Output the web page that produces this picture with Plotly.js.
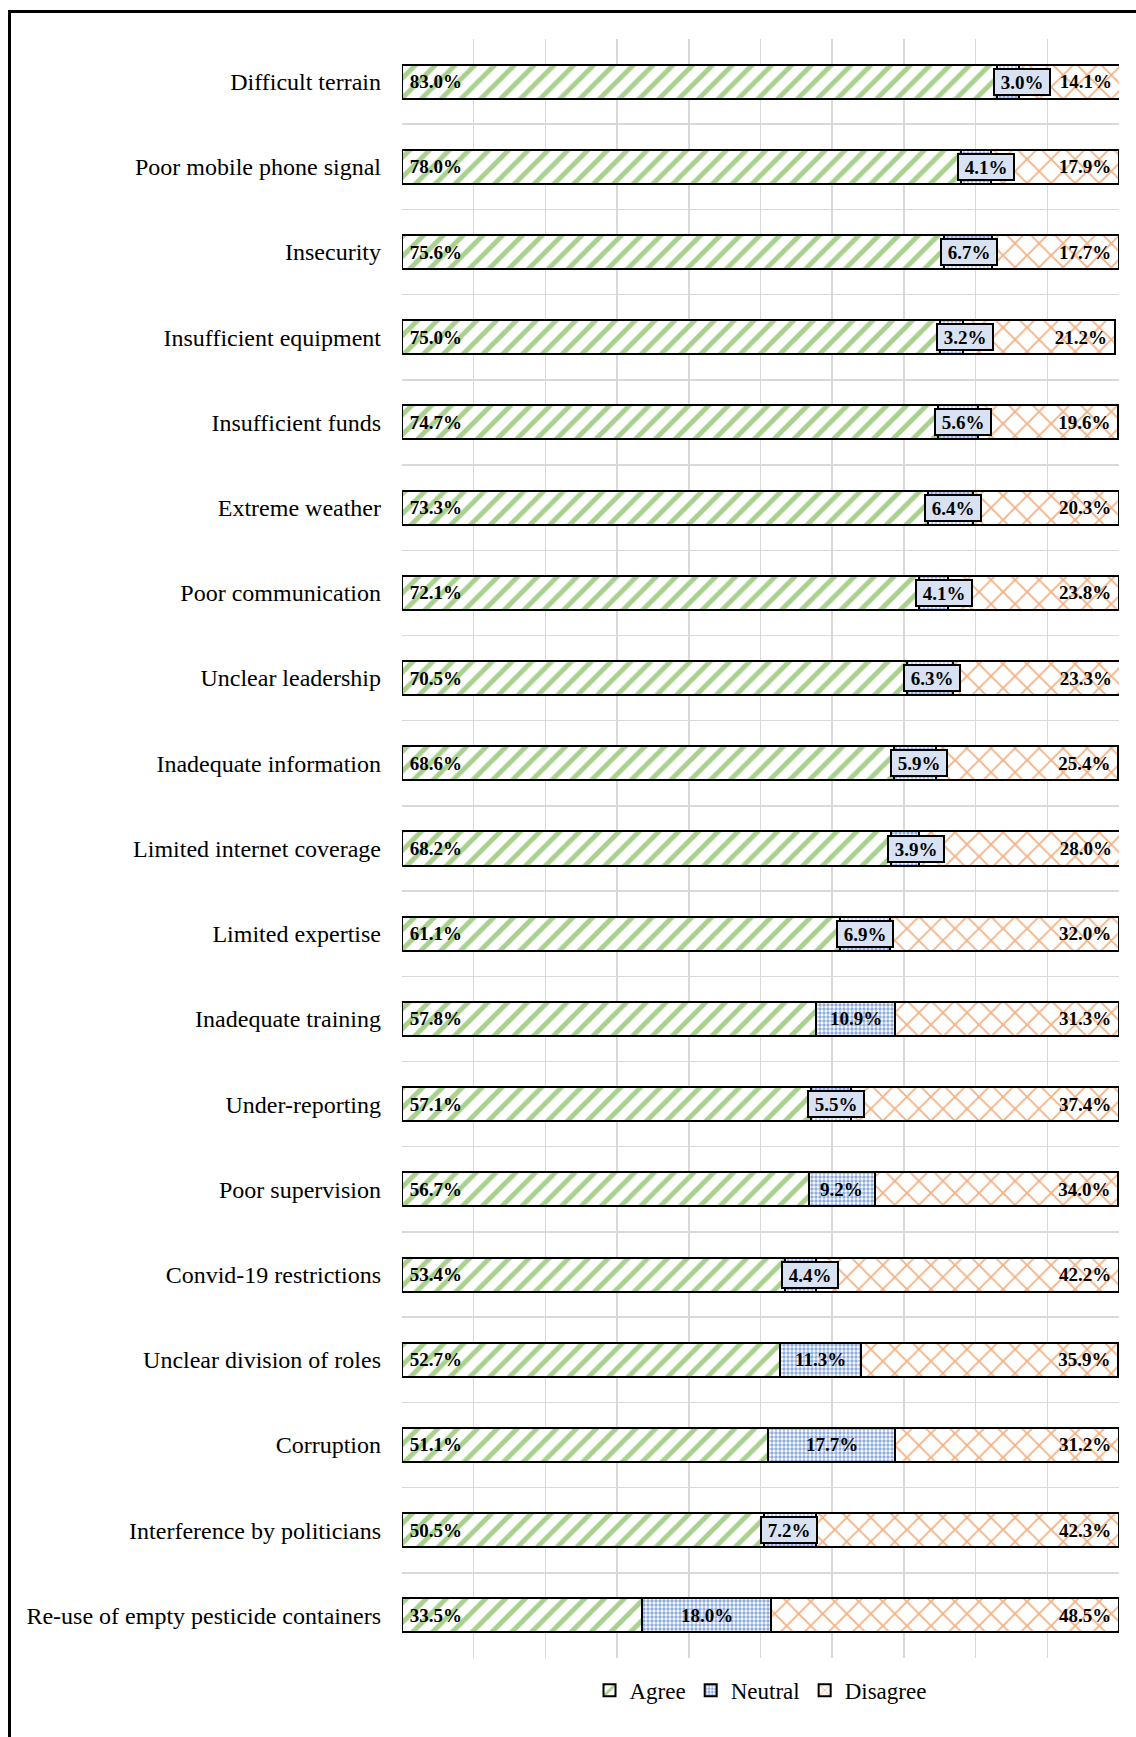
<!DOCTYPE html>
<html>
<head>
<meta charset="utf-8">
<script src="https://cdn.plot.ly/plotly-3.0.1.min.js"></script>
<style>
  html, body { margin: 0; padding: 0; background: #ffffff; overflow: hidden; }
  #frame { position: absolute; left: 8px; top: 10px; width: 2000px; height: 3000px;
           border-left: 3px solid #000; border-top: 3px solid #000; box-sizing: border-box; z-index: 0; }
  #chart { position: absolute; left: 0; top: 0; width: 1136px; height: 1737px; z-index: 1; }
</style>
</head>
<body>
<div id="frame"></div>
<div id="chart"></div>
<script>
const categories = [
  "Difficult terrain",
  "Poor mobile phone signal",
  "Insecurity",
  "Insufficient equipment",
  "Insufficient funds",
  "Extreme weather",
  "Poor communication",
  "Unclear leadership",
  "Inadequate information",
  "Limited internet coverage",
  "Limited expertise",
  "Inadequate training",
  "Under-reporting",
  "Poor supervision",
  "Convid-19 restrictions",
  "Unclear division of roles",
  "Corruption",
  "Interference by politicians",
  "Re-use of empty pesticide containers"
];
const agree    = [83.0, 78.0, 75.6, 75.0, 74.7, 73.3, 72.1, 70.5, 68.6, 68.2, 61.1, 57.8, 57.1, 56.7, 53.4, 52.7, 51.1, 50.5, 33.5];
const neutral  = [3.0, 4.1, 6.7, 3.2, 5.6, 6.4, 4.1, 6.3, 5.9, 3.9, 6.9, 10.9, 5.5, 9.2, 4.4, 11.3, 17.7, 7.2, 18.0];
const disagree = [14.1, 17.9, 17.7, 21.2, 19.6, 20.3, 23.8, 23.3, 25.4, 28.0, 32.0, 31.3, 37.4, 34.0, 42.2, 35.9, 31.2, 42.3, 48.5];
const seriesNames = ["Agree", "Neutral", "Disagree"];

const FONT = "Liberation Serif, Times New Roman, serif";
const labelFont = { family: FONT, size: 19, color: "#000", weight: "bold" };
const NBSP = "\u00a0";

function barTrace(name, values, fg, shape, size, solidity, anchor, textFn) {
  return {
    type: "bar",
    orientation: "h",
    name: name,
    y: categories,
    x: values,
    marker: {
      color: fg,
      line: { color: "#000", width: 2 },
      pattern: { shape: shape, fgcolor: fg, bgcolor: "#ffffff", size: size, solidity: solidity, fillmode: "replace" }
    },
    text: textFn ? values.map(textFn) : undefined,
    texttemplate: textFn ? "%{text}" : undefined,
    textposition: textFn ? "inside" : "none",
    insidetextanchor: anchor,
    textangle: 0,
    constraintext: "none",
    textfont: labelFont,
    hoverinfo: "skip"
  };
}

const traces = [
  barTrace(seriesNames[0], agree, "#A9D18E", "/", 14, 0.35, "start", v => NBSP + v.toFixed(1) + "%"),
  barTrace(seriesNames[1], neutral, "#8FAADC", ".", 4, 0.55, "middle", null),
  barTrace(seriesNames[2], disagree, "#F4B183", "x", 17, 0.2, "end", v => v.toFixed(1) + "%" + NBSP)
];

const annotations = categories.map((c, i) => {
  const narrow = neutral[i] < 8;
  const a = {
    y: c,
    xref: "x",
    yref: "y",
    text: neutral[i].toFixed(1) + "%",
    showarrow: false,
    font: labelFont,
    borderpad: 1
  };
  if (narrow) {
    a.x = agree[i];
    a.xanchor = "left";
    a.xshift = -4;
    a.width = 52;
    a.height = 22;
    a.bordercolor = "#000";
    a.borderwidth = 2;
    a.bgcolor = "#d9e2f3";
  } else {
    a.x = agree[i] + neutral[i] / 2;
    a.xanchor = "center";
  }
  return a;
});

const layout = {
  width: 1136,
  height: 1737,
  margin: { l: 402, r: 17, t: 39, b: 79 },
  paper_bgcolor: "rgba(0,0,0,0)",
  plot_bgcolor: "#ffffff",
  barmode: "stack",
  bargap: 0.6,
  showlegend: true,
  legend: {
    orientation: "h",
    x: 0.5, xanchor: "center",
    y: -0.02, yanchor: "middle",
    font: { family: FONT, size: 23, color: "#000" },
    traceorder: "normal",
    itemwidth: 30
  },
  xaxis: {
    range: [0, 100],
    dtick: 10,
    showgrid: true,
    gridcolor: "#d9d9d9",
    gridwidth: 1.5,
    showticklabels: false,
    zeroline: false,
    showline: false,
    ticks: ""
  },
  yaxis: {
    type: "category",
    autorange: "reversed",
    tickson: "boundaries",
    showgrid: true,
    gridcolor: "#d9d9d9",
    gridwidth: 1.5,
    ticks: "",
    ticklabelstandoff: 20,
    tickfont: { family: FONT, size: 24, color: "#000" },
    showline: false,
    zeroline: false
  },
  annotations: annotations
};

Plotly.newPlot("chart", traces, layout, { displayModeBar: false, staticPlot: true });
</script>
</body>
</html>
